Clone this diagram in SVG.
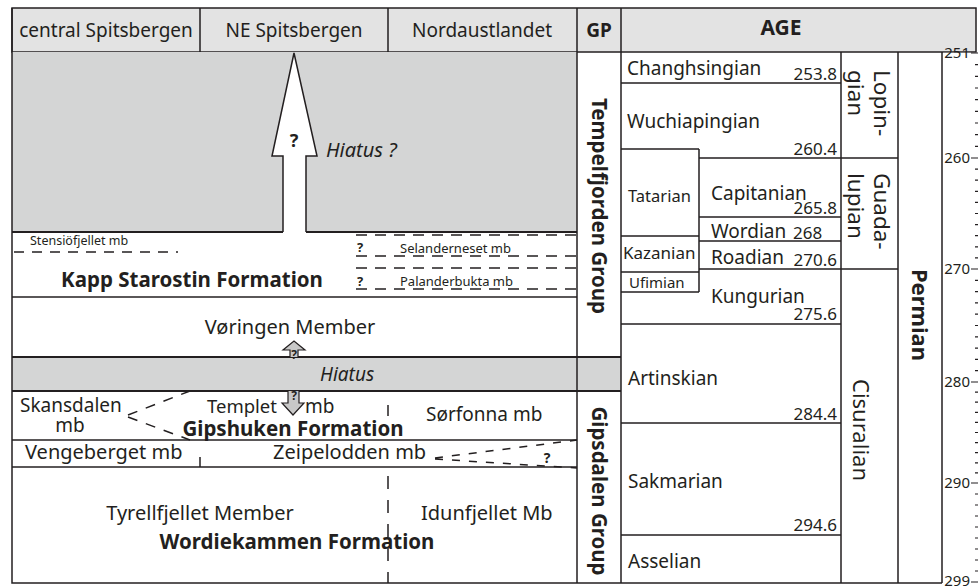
<svg xmlns="http://www.w3.org/2000/svg" width="979" height="588" viewBox="0 0 979 588">
<style>
text{font-family:"Noto Sans","Open Sans",sans-serif;fill:#231f20}
.r{font-size:19px}
.r2{font-size:20px}
.n{font-size:17px}
.b{font-weight:bold}
.it{font-style:italic}
.ln{stroke:#231f20;stroke-width:1.5;fill:none}
.tk{stroke:#231f20;stroke-width:2;fill:none}
.da{stroke:#231f20;stroke-width:1.5;fill:none;stroke-dasharray:10 8}
.ax{font-size:15px;text-anchor:end}
.q{fill:#c8c8c8;stroke:#231f20;stroke-width:1.2}
</style>
<rect width="979" height="588" fill="#fff"/>
<g id="header">
<rect x="12" y="8" width="964" height="44" fill="#e3e3e3" stroke="#231f20" stroke-width="1.5"/>
<rect x="943" y="52.8" width="34" height="8" fill="#fff"/>
<path class="ln" d="M200,8V52M388,8V52M577,8V52M621,8V52"/>
<text class="r" x="106" y="37" text-anchor="middle">central Spitsbergen</text>
<text class="r" x="294" y="37" text-anchor="middle">NE Spitsbergen</text>
<text class="r" x="482" y="37" text-anchor="middle">Nordaustlandet</text>
<text class="r b" x="599" y="37" text-anchor="middle">GP</text>
<text class="b" x="781" y="35" text-anchor="middle" font-size="21">AGE</text>
</g>
<g id="hiatus-top">
<rect x="12" y="52" width="565" height="180" fill="#d4d5d5"/>
<path class="tk" d="M12,232H283M306,232H577"/>
<path d="M283,232V156H272L294,53L317,156H306V232" fill="#fff" stroke="#231f20" stroke-width="1.5"/>
<text class="b" x="294" y="147" text-anchor="middle" font-size="18">?</text>
<text class="it" x="326" y="157" font-size="20">Hiatus ?</text>
</g>
<g id="kapp-starostin">
<text x="30" y="245" font-size="12.5">Stensiöfjellet mb</text>
<path class="da" d="M14,252H178"/>
<path class="da" d="M356,235H577M356,256H577M356,268H577M356,289H577" style="stroke-dasharray:11 8"/>
<text class="b" x="360" y="252" text-anchor="middle" font-size="13">?</text>
<text class="b" x="360" y="286" text-anchor="middle" font-size="13">?</text>
<text x="400" y="253" font-size="13">Selanderneset mb</text>
<text x="400" y="286" font-size="13">Palanderbukta mb</text>
<text class="b" x="192" y="287" text-anchor="middle" font-size="20.5">Kapp Starostin Formation</text>
<path class="ln" d="M12,297H577"/>
</g>
<g id="voringen">
<text class="r2" x="290" y="334" text-anchor="middle">Vøringen Member</text>
</g>
<g id="hiatus-mid">
<rect x="12" y="357" width="609" height="34" fill="#d4d5d5"/>
<path class="tk" d="M12,357H621M12,391H621"/>
<text class="r it" x="320" y="381">Hiatus</text>
<path class="q" d="M290,357V350H283L294,341L305,350H298V357"/>
<text class="b" x="294" y="359" text-anchor="middle" font-size="12">?</text>
</g>
<g id="gipshuken">
<text class="r" x="20" y="412">Skansdalen</text>
<text class="r" x="70" y="432" text-anchor="middle">mb</text>
<path class="da" d="M128,415L190,391M128,417L190,440" style="stroke-dasharray:10 9"/>
<text x="207" y="413" font-size="18.5">Templet</text>
<path class="q" d="M288,391V403H282L293,415L304,403H299V391"/>
<text class="b" x="294" y="400" text-anchor="middle" font-size="12">?</text>
<text class="r" x="305" y="413">mb</text>
<path class="ln" d="M388,405V416"/>
<text class="r" x="426" y="421">Sørfonna mb</text>
<text class="b" x="293" y="436" text-anchor="middle" font-size="20.5">Gipshuken Formation</text>
<path class="ln" d="M12,440H577" stroke-width="1.2"/>
</g>
<g id="vengeberget">
<text class="r2" x="25" y="459">Vengeberget mb</text>
<path class="ln" d="M200,457V467"/>
<text class="r2" x="273" y="459">Zeipelodden mb</text>
<path class="da" d="M435,458L577,440M435,459L577,468" style="stroke-dasharray:8 9"/>
<text class="b" x="547" y="463" text-anchor="middle" font-size="14">?</text>
<path class="ln" d="M12,467H577"/>
</g>
<g id="wordiekammen">
<text class="r2" x="200" y="520" text-anchor="middle">Tyrellfjellet Member</text>
<text class="r2" x="421" y="520">Idunfjellet Mb</text>
<text class="b" x="297" y="549" text-anchor="middle" font-size="20.5">Wordiekammen Formation</text>
<path class="da" d="M388,476V583" style="stroke-dasharray:13 11"/>
</g>
<g id="groups">
<text class="b" transform="translate(592,206) rotate(90)" text-anchor="middle" font-size="20.5">Tempelfjorden Group</text>
<text class="b" transform="translate(592,491) rotate(90)" text-anchor="middle" font-size="20.5">Gipsdalen Group</text>
</g>
<g id="stages">
<text class="r" x="627" y="75">Changhsingian</text>
<text class="n" x="837" y="80" text-anchor="end">253.8</text>
<text class="r" x="627" y="128">Wuchiapingian</text>
<text class="n" x="837" y="155" text-anchor="end">260.4</text>
<text x="628" y="202" font-size="16.5">Tatarian</text>
<text class="r" x="711" y="200">Capitanian</text>
<text class="n" x="837" y="214" text-anchor="end">265.8</text>
<text class="r" x="711" y="238">Wordian</text>
<text class="n" x="793" y="239">268</text>
<text x="623" y="259" font-size="17">Kazanian</text>
<text class="r" x="711" y="264">Roadian</text>
<text class="n" x="837" y="266" text-anchor="end">270.6</text>
<text x="629" y="288" font-size="15">Ufimian</text>
<text class="r" x="711" y="303">Kungurian</text>
<text class="n" x="837" y="320" text-anchor="end">275.6</text>
<text class="r" x="628" y="385">Artinskian</text>
<text class="n" x="837" y="420" text-anchor="end">284.4</text>
<text class="r" x="628" y="488">Sakmarian</text>
<text class="n" x="837" y="531" text-anchor="end">294.6</text>
<text class="r" x="628" y="568">Asselian</text>
<path class="ln" d="M621,83H841M621,149H699M699,158H841M699,217H841M699,241H841M621,236H699M699,269H841M621,272H699M621,292H699M699,149V292M621,324H841M621,423H841M621,535H841"/>
</g>
<g id="series">
<text transform="translate(874,70) rotate(90)" font-size="22.5">Lopin-</text>
<text transform="translate(848,70) rotate(90)" font-size="22.5">gian</text>
<text transform="translate(874,173) rotate(90)" font-size="22.5">Guada-</text>
<text transform="translate(848,173) rotate(90)" font-size="22.5">lupian</text>
<text transform="translate(853,430) rotate(90)" text-anchor="middle" font-size="22">Cisuralian</text>
<path class="ln" d="M841,158H898M841,269H898"/>
</g>
<g id="period">
<text class="b" transform="translate(912,315) rotate(90)" text-anchor="middle" font-size="22">Permian</text>
</g>
<path class="ln" d="M12,8V583H942M577,52V583M621,52V583M841,52V583M898,52V583M942,52V583"/>
<g id="axis">
<text class="ax" x="970" y="58">251</text>
<text class="ax" x="970" y="163">260</text>
<text class="ax" x="970" y="274">270</text>
<text class="ax" x="970" y="387">280</text>
<text class="ax" x="970" y="488">290</text>
<text class="ax" x="970" y="586">299</text>
<path stroke="#231f20" stroke-width="1.2" d="M971,53H978M971,158H978M971,269H978M971,382H978M971,483H978M971,582H978"/>
<path stroke="#231f20" stroke-width="1.2" d="M975,64.7H978M975,76.3H978M975,88H978M975,99.7H978M975,111.3H978M975,123H978M975,134.7H978M975,146.3H978M975,169.1H978M975,180.2H978M975,191.3H978M975,202.4H978M975,213.5H978M975,224.6H978M975,235.7H978M975,246.8H978M975,257.9H978M975,280.3H978M975,291.6H978M975,302.9H978M975,314.2H978M975,325.5H978M975,336.8H978M975,348.1H978M975,359.4H978M975,370.7H978M975,392.1H978M975,402.2H978M975,412.3H978M975,422.4H978M975,432.5H978M975,442.6H978M975,452.7H978M975,462.8H978M975,472.9H978M975,494H978M975,505H978M975,516H978M975,527H978M975,538H978M975,549H978M975,560H978M975,571H978"/>
</g>
</svg>
